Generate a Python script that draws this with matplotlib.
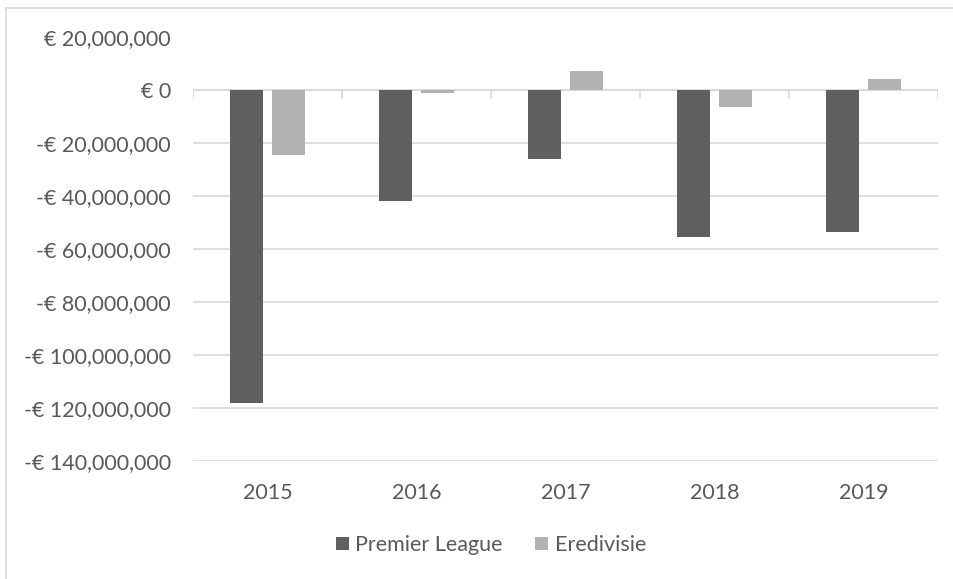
import matplotlib.pyplot as plt
from matplotlib.lines import Line2D
from matplotlib.ticker import FuncFormatter, MultipleLocator
import numpy as np

years = ['2015', '2016', '2017', '2018', '2019']
premier_league = [-118300000, -41700000, -25900000, -55400000, -53500000]
eredivisie = [-24500000, -800000, 7500000, -6100000, 4200000]

dark = '#5f5f5f'
light = '#b2b2b2'
text_col = '#595959'
grid_col = '#d9d9d9'

plt.rcParams['font.family'] = ['Lato', 'DejaVu Sans']

fig = plt.figure(figsize=(9.54, 5.79), dpi=100)
ax = fig.add_axes([193 / 954, 1 - 460.7 / 579, 745 / 954, 423.2 / 579])

x = np.arange(len(years))
w = 0.222
off = 0.141
ax.bar(x - off, premier_league, w, color=dark, label='Premier League', zorder=3)
ax.bar(x + off, eredivisie, w, color=light, label='Eredivisie', zorder=3)

ax.set_xlim(-0.5, len(years) - 0.5)
ax.set_ylim(-140000000, 20000000)
ax.yaxis.set_major_locator(MultipleLocator(20000000))


def euro(v, pos):
    v = int(round(v))
    if v == 0:
        return '€ 0'
    s = f'€ {abs(v):,}'
    return '-' + s if v < 0 else s


ax.yaxis.set_major_formatter(FuncFormatter(euro))
ax.grid(axis='y', color=grid_col, linewidth=1.2, zorder=0)
for s in ax.spines.values():
    s.set_visible(False)
ax.tick_params(axis='y', length=0, labelsize=15.5, labelcolor=text_col, pad=16)
ax.tick_params(axis='x', length=0, labelsize=15.5, labelcolor=text_col, pad=16)
ax.set_xticks(x)
ax.set_xticklabels(years)

# category axis at zero with small tick marks between groups
ax.axhline(0, color=grid_col, linewidth=1.2, zorder=2)
for b in np.arange(-0.5, len(years), 1.0):
    ax.plot([b, b], [0, -2700000], color=grid_col, linewidth=1.2, zorder=2)

handles, labels = ax.get_legend_handles_labels()
fig.legend(handles, labels, loc='center', bbox_to_anchor=(491 / 954, 1 - 545 / 579), ncol=2,
           frameon=False, fontsize=15.5, labelcolor=text_col, handlelength=0.6, handleheight=0.6,
           handletextpad=0.3, columnspacing=1.5, borderpad=0)

# chart border (cropped on the right and bottom)
fig.add_artist(Line2D([6.5 / 954, 1], [1 - 7.5 / 579, 1 - 7.5 / 579], color=grid_col, linewidth=1.2))
fig.add_artist(Line2D([6.5 / 954, 6.5 / 954], [0, 1 - 7.5 / 579], color=grid_col, linewidth=1.2))

fig.savefig('out.png', dpi=100)
